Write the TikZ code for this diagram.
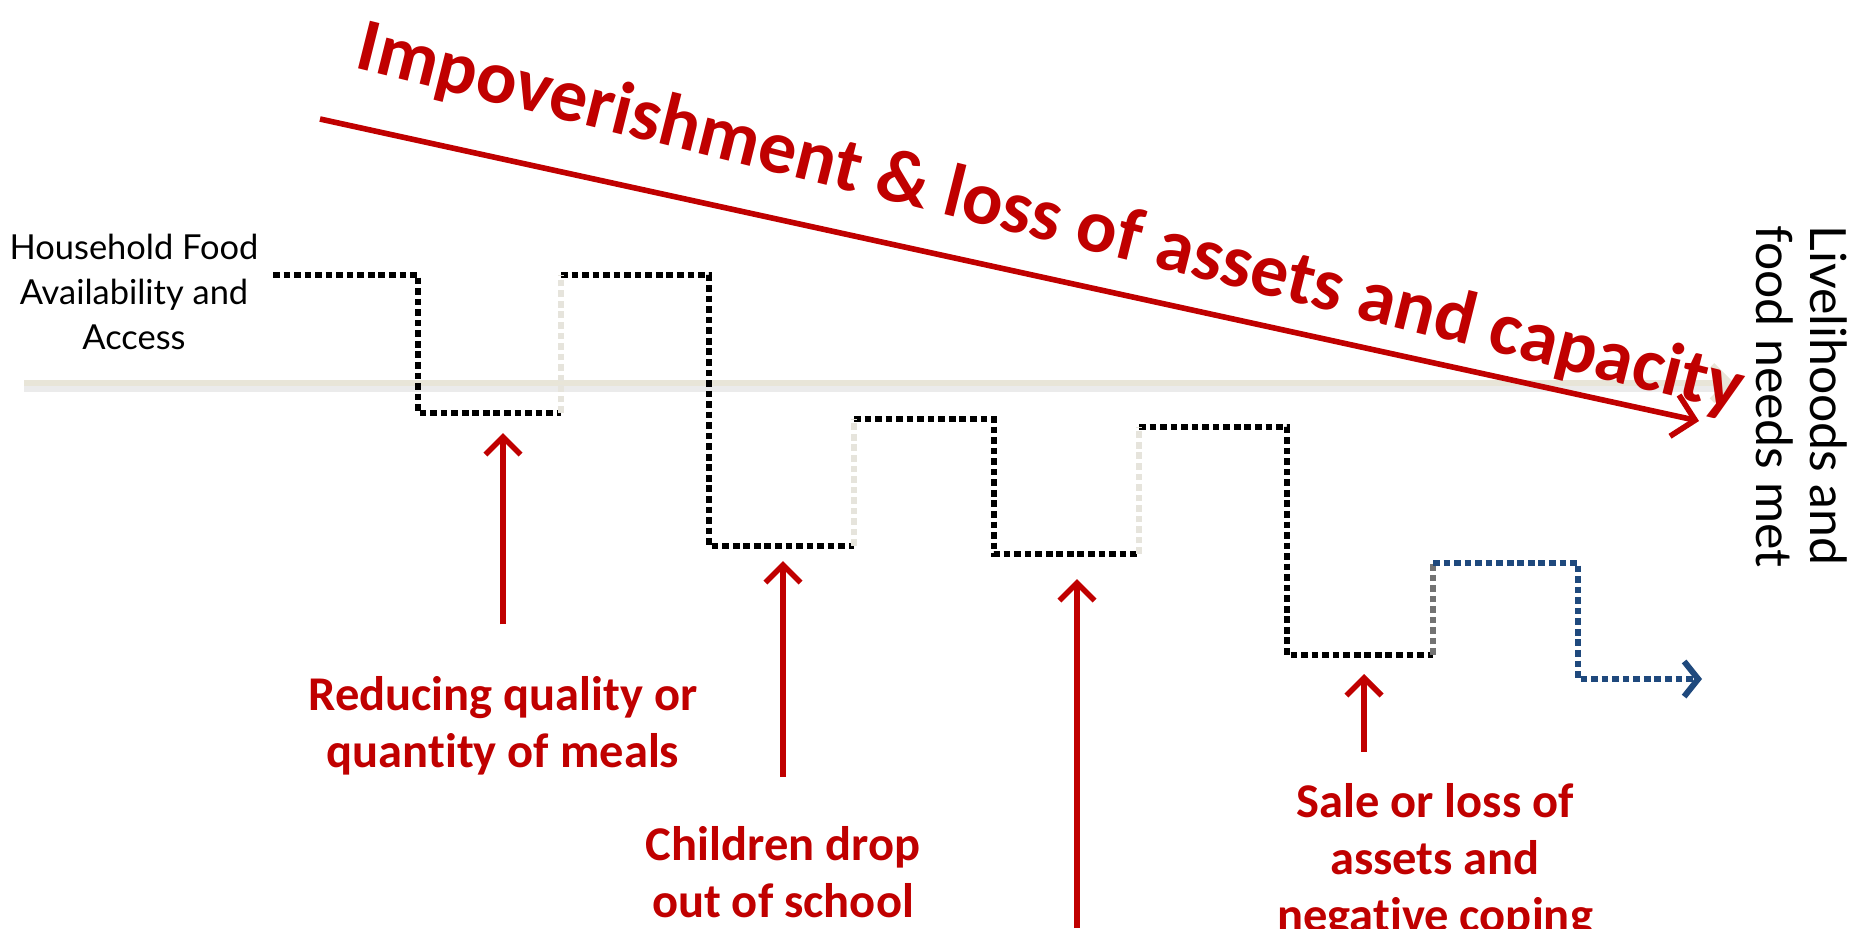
\documentclass[tikz,border=0pt]{standalone}
\usepackage{fontspec}
\setmainfont{Carlito}[Ligatures=NoCommon]
\newfontfamily\gillfont{Lato}
\usetikzlibrary{arrows.meta}
\definecolor{darkred}{HTML}{C00000}
\definecolor{axisbeige}{HTML}{E8E5D8}
\definecolor{stepblue}{HTML}{1F497D}
\definecolor{faintstep}{HTML}{E6E4DC}
\tikzset{
  stepline/.style={line width=1.7pt, dash pattern=on 1.9pt off 1.1pt},
  redlabel/.style={text=darkred, font=\fontsize{13.8}{16.2}\selectfont\bfseries, align=center},
  redup/.style={darkred, line width=1.6pt, -{Straight Barb[length=5pt,width=10pt]}},
}

\begin{document}
\begin{tikzpicture}[x=0.1mm, y=-0.1mm]
  \useasboundingbox (0,0) rectangle (1860,928);
  \clip (0,0) rectangle (1860,928);

  % time axis
  \coordinate (axstart) at (24,383);
  \coordinate (axend) at (1734,383);
  \draw[black!8, line width=2.2pt] ([yshift=-0.5mm]axstart) -- ([yshift=-0.5mm]axend);
  \draw[axisbeige, line width=1.8pt, -{Straight Barb[length=5pt,width=10pt]}] (axstart) -- (axend);

  % steps down
  \foreach \xa/\xb/\xc/\ya/\yb in {273/418/561/275/413, 561/709/854/275/546, 854/994/1139/419/554, 1139/1287/1433/427/655}
    \draw[stepline] (\xa,\ya) -- (\xb,\ya) -- (\xb,\yb) -- (\xc,\yb);
  \foreach \x/\ya/\yb in {561/413/275, 854/546/419, 1139/554/427}
    \draw[stepline, faintstep] (\x,\ya) -- (\x,\yb);
  \draw[stepline, black!55] (1433,655) -- (1433,563);
  \draw[stepline, stepblue, -{Straight Barb[length=4pt,width=10pt]}] (1433,563) -- (1578,563) -- (1578,679) -- (1702,679);

  % trend
  \node[rotate=-14, text=darkred, font=\fontsize{21.5}{26}\selectfont\bfseries] (title) at (1050,220) {Impoverishment \& loss of assets and capacity};
  \coordinate (trstart) at (320,119);
  \coordinate (trend) at (1699,421);
  \draw[darkred, line width=1.6pt, -{Straight Barb[length=6pt,width=12pt]}] (trstart) -- (trend);

  % side labels
  \node[font=\gillfont\fontsize{9.8}{12.8}\selectfont, align=center] (hfa) at (134,292) {Household Food\\Availability and\\Access};
  \node[rotate=-90, anchor=north west, font=\gillfont\fontsize{14.2}{15.5}\selectfont, align=left] (met) at (1860,213) {Livelihoods and\\food needs met};

  % coping strategies
  \node[redlabel] (meals) at (503,726) {Reducing quality or\\quantity of meals};
  \node[redlabel] (school) at (783,872) {Children drop\\out of school};
  \node[redlabel] (assets) at (1435,862) {Sale or loss of\\assets and\\negative coping};
  \coordinate (mealsup) at (503,433);
  \coordinate (schoolup) at (783,561);
  \coordinate (thirdlow) at (1077,928);
  \coordinate (thirdup) at (1077,579);
  \coordinate (assetsup) at (1364,674);
  \draw[redup] (meals.north) ++(0,-40) -- (mealsup);
  \draw[redup] (school.north) ++(0,-37) -- (schoolup);
  \draw[redup] (thirdlow) -- (thirdup);
  \draw[redup] (assets.north -| assetsup) ++(0,-20) -- (assetsup);
\end{tikzpicture}
\end{document}
